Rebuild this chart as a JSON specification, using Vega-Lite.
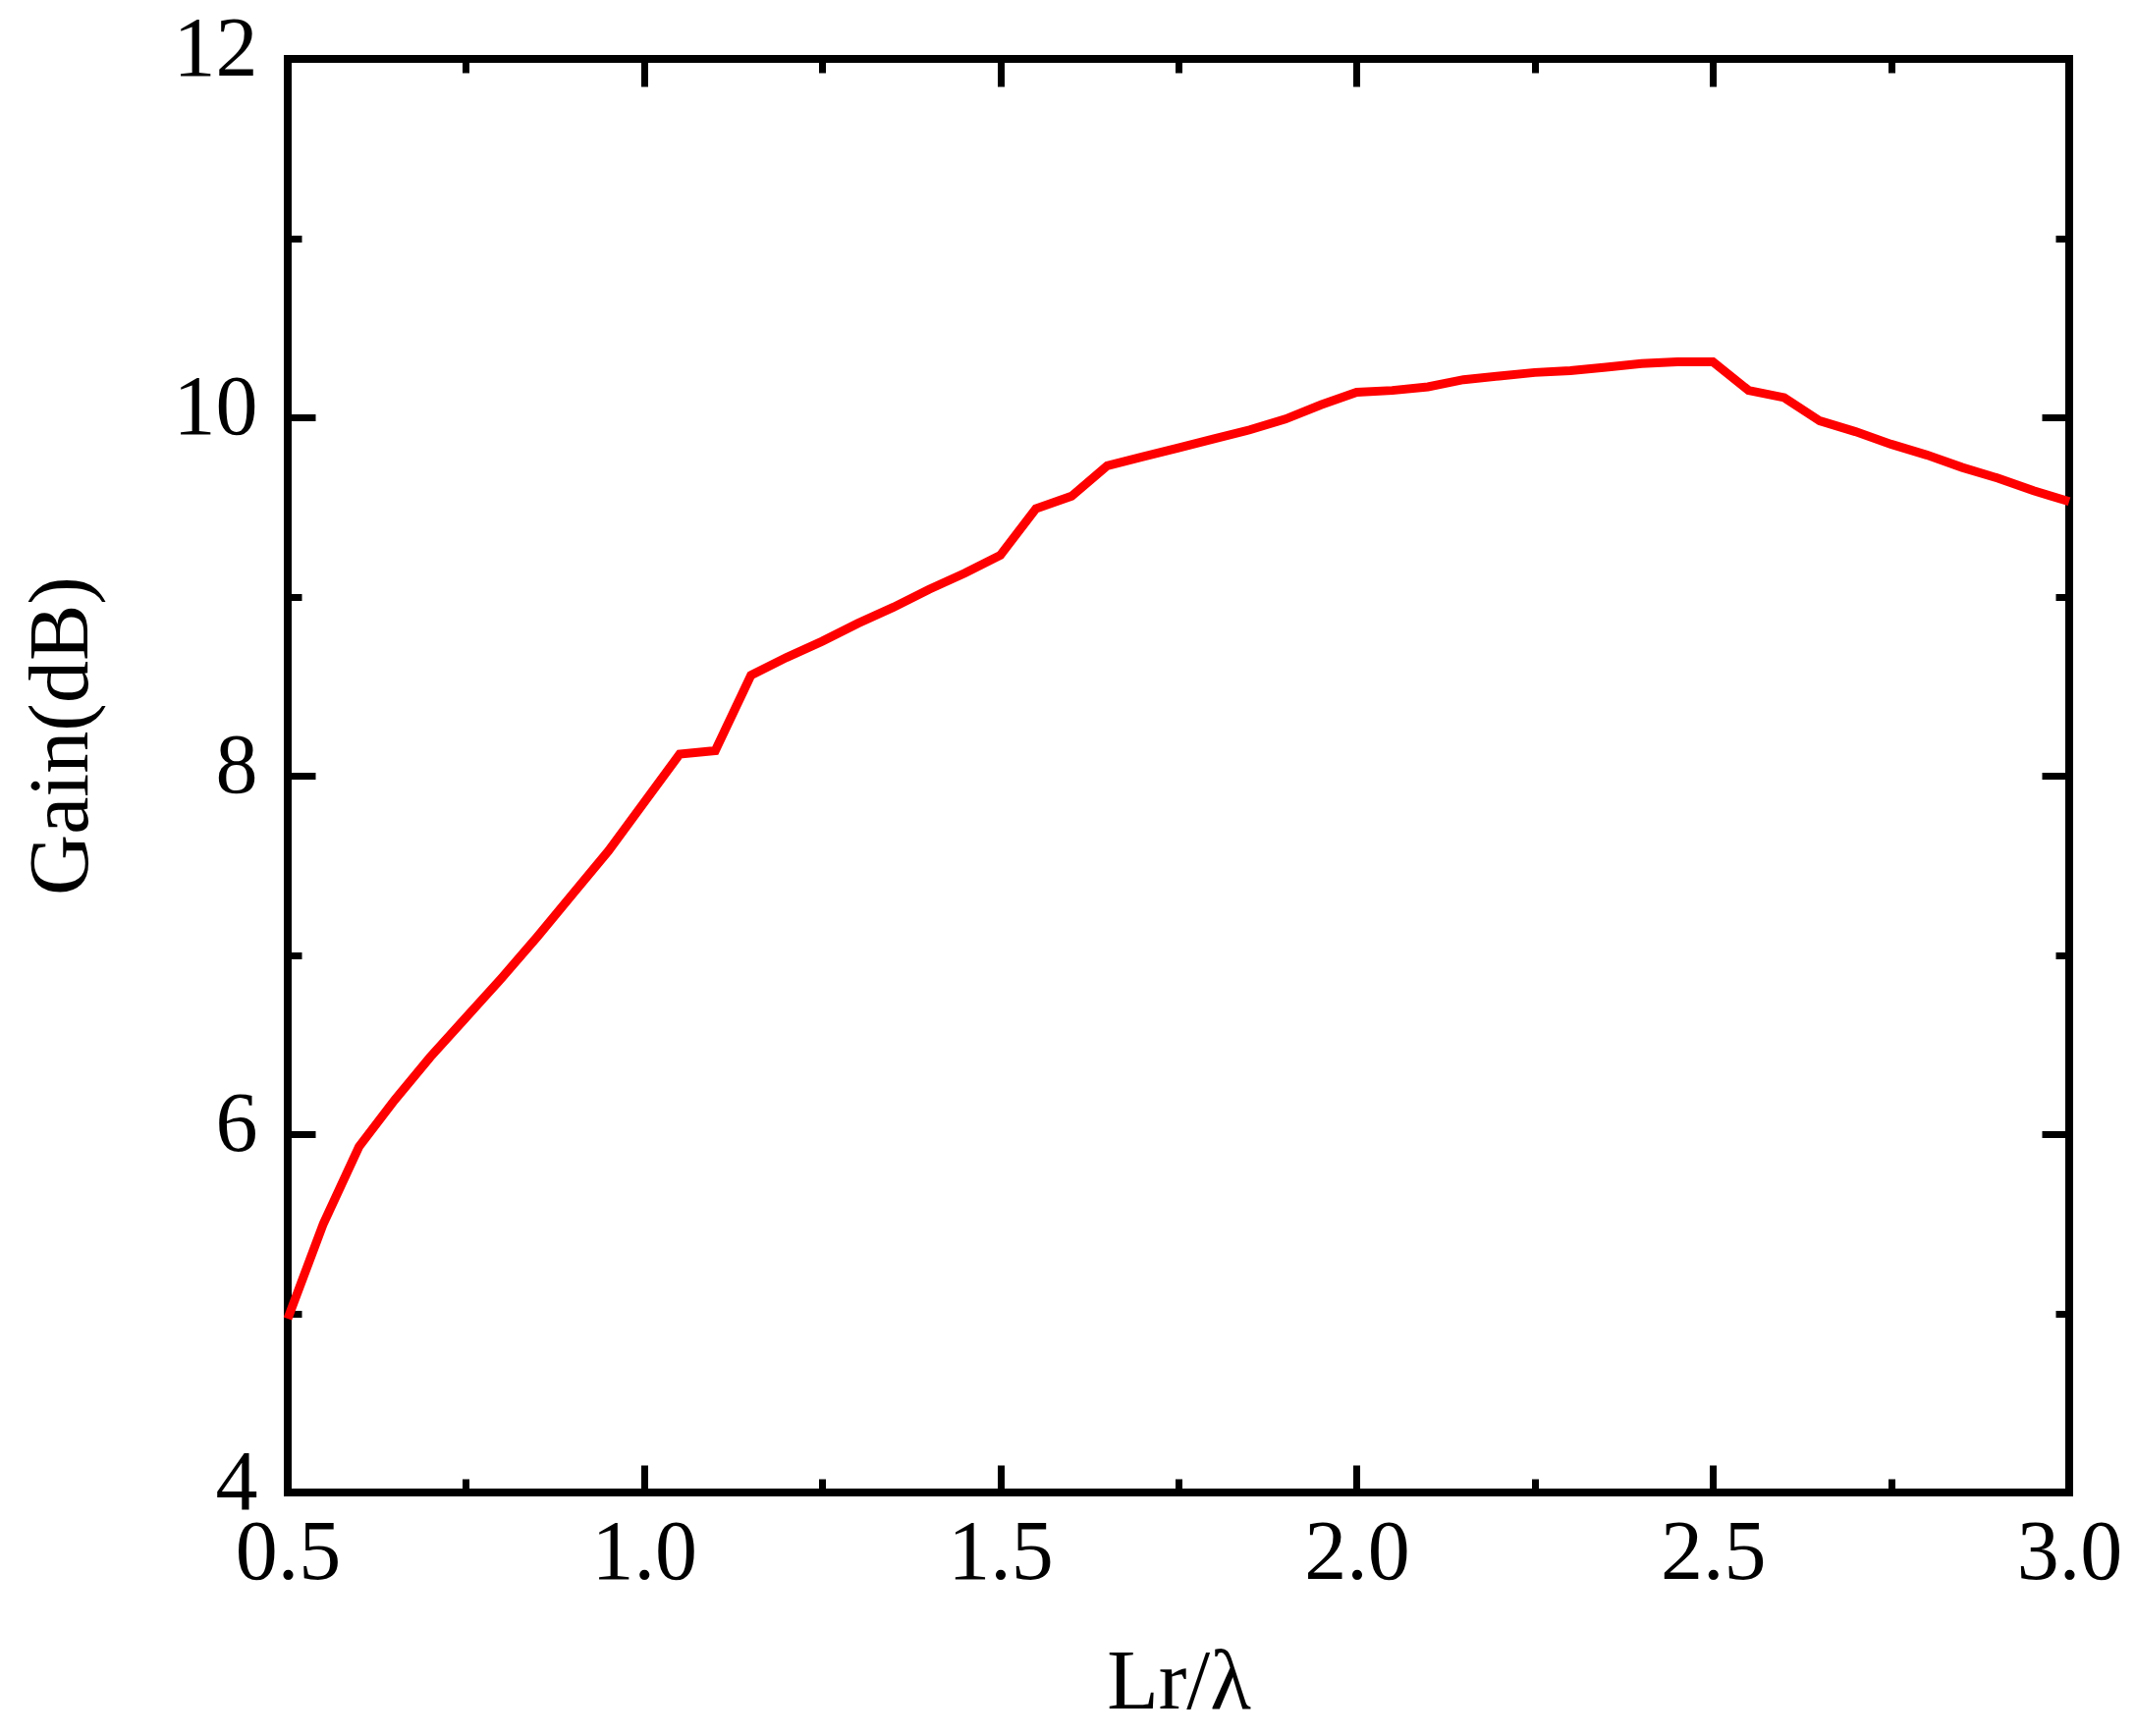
{
  "$schema": "https://vega.github.io/schema/vega-lite/v6.json",
  "width": 1814,
  "height": 1460,
  "autosize": "none",
  "padding": {"left": 293, "top": 60, "right": 67, "bottom": 248},
  "background": "white",
  "data": {
    "values": [
      {"lr": 0.5, "gain": 4.97},
      {"lr": 0.55, "gain": 5.5},
      {"lr": 0.6, "gain": 5.93},
      {"lr": 0.65, "gain": 6.19},
      {"lr": 0.7, "gain": 6.43},
      {"lr": 0.75, "gain": 6.65},
      {"lr": 0.8, "gain": 6.87},
      {"lr": 0.85, "gain": 7.1},
      {"lr": 0.9, "gain": 7.34},
      {"lr": 0.95, "gain": 7.58},
      {"lr": 1.0, "gain": 7.85},
      {"lr": 1.05, "gain": 8.12},
      {"lr": 1.1, "gain": 8.14},
      {"lr": 1.15, "gain": 8.56},
      {"lr": 1.2, "gain": 8.66},
      {"lr": 1.25, "gain": 8.75},
      {"lr": 1.3, "gain": 8.85},
      {"lr": 1.35, "gain": 8.94},
      {"lr": 1.4, "gain": 9.04},
      {"lr": 1.45, "gain": 9.13},
      {"lr": 1.5, "gain": 9.23},
      {"lr": 1.55, "gain": 9.49},
      {"lr": 1.6, "gain": 9.56},
      {"lr": 1.65, "gain": 9.73},
      {"lr": 1.7, "gain": 9.78},
      {"lr": 1.75, "gain": 9.83},
      {"lr": 1.8, "gain": 9.88},
      {"lr": 1.85, "gain": 9.93},
      {"lr": 1.9, "gain": 9.99},
      {"lr": 1.95, "gain": 10.07},
      {"lr": 2.0, "gain": 10.14},
      {"lr": 2.05, "gain": 10.15},
      {"lr": 2.1, "gain": 10.17},
      {"lr": 2.15, "gain": 10.21},
      {"lr": 2.2, "gain": 10.23},
      {"lr": 2.25, "gain": 10.25},
      {"lr": 2.3, "gain": 10.26},
      {"lr": 2.35, "gain": 10.28},
      {"lr": 2.4, "gain": 10.3},
      {"lr": 2.45, "gain": 10.31},
      {"lr": 2.5, "gain": 10.31},
      {"lr": 2.55, "gain": 10.15},
      {"lr": 2.6, "gain": 10.11},
      {"lr": 2.65, "gain": 9.98},
      {"lr": 2.7, "gain": 9.92},
      {"lr": 2.75, "gain": 9.85},
      {"lr": 2.8, "gain": 9.79},
      {"lr": 2.85, "gain": 9.72},
      {"lr": 2.9, "gain": 9.66},
      {"lr": 2.95, "gain": 9.59},
      {"lr": 3.0, "gain": 9.53}
    ]
  },
  "layer": [
    {
      "mark": {"type": "line", "color": "#ff0000", "strokeWidth": 9},
      "encoding": {
        "x": {
          "field": "lr", "type": "quantitative",
          "scale": {"domain": [0.5, 3.0], "nice": false, "zero": false},
          "axis": {
            "orient": "bottom", "title": "Lr/λ",
            "values": [0.5, 1.0, 1.5, 2.0, 2.5, 3.0], "format": ".1f",
            "ticks": false, "domain": false, "labelPadding": 19, "labelFlush": false,
            "titleBaseline": "alphabetic", "titleY": 219
          }
        },
        "y": {
          "field": "gain", "type": "quantitative",
          "scale": {"domain": [4, 12], "nice": false, "zero": false},
          "axis": {
            "orient": "left", "title": "Gain(dB)",
            "values": [4, 6, 8, 10, 12],
            "ticks": false, "domain": false, "labelPadding": 31, "labelOffset": -10,
            "labelFlush": false,
            "titleBaseline": "alphabetic", "titleX": -205, "titleY": 689
          }
        }
      }
    },
    {
      "mark": {"type": "line", "opacity": 0},
      "encoding": {
        "x": {"field": "lr", "type": "quantitative",
          "axis": {"orient": "bottom", "values": [0.5, 1.0, 1.5, 2.0, 2.5, 3.0], "tickSize": -28, "labels": false, "domain": false, "title": null}},
        "y": {"field": "gain", "type": "quantitative",
          "axis": {"orient": "left", "values": [4, 6, 8, 10, 12], "tickSize": -28, "labels": false, "domain": false, "title": null}}
      }
    },
    {
      "mark": {"type": "line", "opacity": 0},
      "encoding": {
        "x": {"field": "lr", "type": "quantitative",
          "axis": {"orient": "top", "values": [0.5, 1.0, 1.5, 2.0, 2.5, 3.0], "tickSize": -28, "labels": false, "domain": false, "title": null}},
        "y": {"field": "gain", "type": "quantitative",
          "axis": {"orient": "right", "values": [4, 6, 8, 10, 12], "tickSize": -28, "labels": false, "domain": false, "title": null}}
      }
    },
    {
      "mark": {"type": "line", "opacity": 0},
      "encoding": {
        "x": {"field": "lr", "type": "quantitative",
          "axis": {"orient": "bottom", "values": [0.75, 1.25, 1.75, 2.25, 2.75], "tickSize": -14, "labels": false, "domain": false, "title": null}},
        "y": {"field": "gain", "type": "quantitative",
          "axis": {"orient": "left", "values": [5, 7, 9, 11], "tickSize": -14, "labels": false, "domain": false, "title": null}}
      }
    },
    {
      "mark": {"type": "line", "opacity": 0},
      "encoding": {
        "x": {"field": "lr", "type": "quantitative",
          "axis": {"orient": "top", "values": [0.75, 1.25, 1.75, 2.25, 2.75], "tickSize": -14, "labels": false, "domain": false, "title": null}},
        "y": {"field": "gain", "type": "quantitative",
          "axis": {"orient": "right", "values": [5, 7, 9, 11], "tickSize": -14, "labels": false, "domain": false, "title": null}}
      }
    }
  ],
  "resolve": {"axis": {"x": "independent", "y": "independent"}},
  "config": {
    "view": {"stroke": "black", "strokeWidth": 8},
    "axis": {
      "grid": false,
      "tickColor": "black", "tickWidth": 7,
      "labelFont": "Liberation Serif", "labelFontSize": 86, "labelColor": "black",
      "titleFont": "Liberation Serif", "titleFontSize": 86, "titleFontWeight": "normal", "titleColor": "black"
    }
  }
}
